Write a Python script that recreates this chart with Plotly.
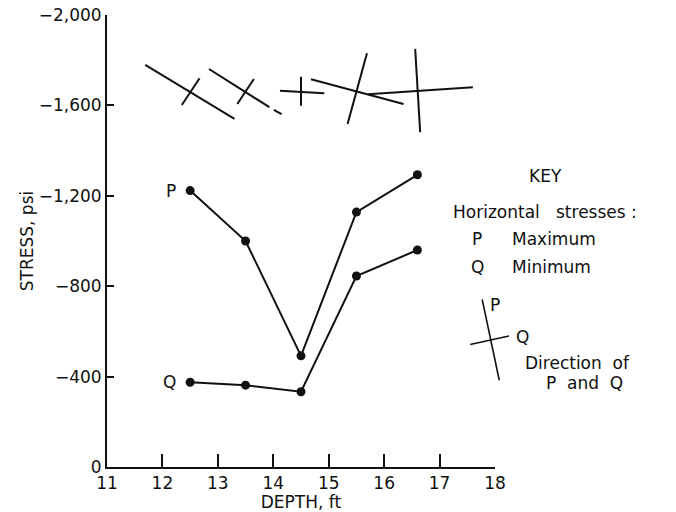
import plotly.graph_objects as go

# ---- data ----
depth = [12.5, 13.5, 14.5, 15.5, 16.6]
p_max = [-1223, -1000, -492, -1128, -1293]
q_min = [-375, -362, -333, -845, -960]

x_ticks = [11, 12, 13, 14, 15, 16, 17, 18]
y_ticks = [0, -400, -800, -1200, -1600, -2000]
y_tick_text = ["0", "\u2212400", "\u2212800", "\u22121,200", "\u22121,600", "\u22122,000"]

# direction symbols (segment end points, depth ft / stress psi)
seg_x0 = [11.69, 12.35, 12.84, 14.01, 13.35, 14.12, 14.50, 15.69, 14.68, 16.56, 15.71]
seg_y0 = [-1779, -1602, -1761, -1580, -1606, -1665, -1727, -1831, -1716, -1850, -1649]
seg_x1 = [13.30, 12.67, 13.93, 14.15, 13.65, 14.92, 14.50, 15.34, 16.35, 16.65, 17.60]
seg_y1 = [-1540, -1720, -1592, -1561, -1717, -1654, -1598, -1518, -1606, -1481, -1680]

INK = "#111111"
FONT = "DejaVu Sans"
FS = 17

fig = go.Figure()
for name, vals in (("P", p_max), ("Q", q_min)):
    fig.add_trace(go.Scatter(
        x=depth, y=vals, mode="lines+markers", name=name,
        line=dict(color=INK, width=2),
        marker=dict(color=INK, size=9),
        showlegend=False, hoverinfo="skip"))
    fig.add_annotation(x=depth[0], y=vals[0], text=name, showarrow=False,
                       xanchor="right", xshift=-12,
                       font=dict(family=FONT, size=FS, color=INK))

for a, b, c, d in zip(seg_x0, seg_y0, seg_x1, seg_y1):
    fig.add_shape(type="line", xref="x", yref="y", x0=a, y0=b, x1=c, y1=d,
                  line=dict(color=INK, width=2))

# key symbol
fig.add_shape(type="line", xref="paper", yref="paper", x0=0.967, y0=0.371,
              x1=1.011, y1=0.192, line=dict(color=INK, width=1.6))
fig.add_shape(type="line", xref="paper", yref="paper", x0=0.936, y0=0.271,
              x1=1.036, y1=0.290, line=dict(color=INK, width=1.6))

key_texts = [
    ("KEY", 1.129, 0.644, "center"),
    ("Horizontal   stresses :", 0.887, 0.564, "left"),
    ("P", 0.954, 0.504, "center"),
    ("Maximum", 1.039, 0.504, "left"),
    ("Q", 0.954, 0.442, "center"),
    ("Minimum", 1.039, 0.442, "left"),
    ("P", 1.000, 0.358, "center"),
    ("Q", 1.070, 0.288, "center"),
    ("Direction  of", 1.072, 0.230, "left"),
    ("P  and  Q", 1.127, 0.186, "left"),
]
for t, x, y, anc in key_texts:
    fig.add_annotation(xref="paper", yref="paper", x=x, y=y, text=t,
                       showarrow=False, xanchor=anc, yanchor="middle",
                       font=dict(family=FONT, size=FS, color=INK))

fig.update_layout(
    width=676, height=512,
    margin=dict(l=107, r=181, t=15, b=45),
    paper_bgcolor="white", plot_bgcolor="white",
    font=dict(family=FONT, size=FS, color=INK),
    xaxis=dict(range=[11, 18], tickvals=x_ticks, ticks="inside", ticklen=13,
               tickwidth=1.5, tickcolor=INK, showline=True, linecolor=INK,
               linewidth=2, showgrid=False, zeroline=False, automargin=False,
               ticklabelstandoff=0,
               title=dict(text="DEPTH, ft", standoff=0,
                          font=dict(family=FONT, size=FS, color=INK)),
               tickfont=dict(family=FONT, size=FS, color=INK)),
    yaxis=dict(range=[0, -2000], tickvals=y_ticks, ticktext=y_tick_text,
               ticks="inside", ticklen=7, tickwidth=1.5, tickcolor=INK,
               showline=True, linecolor=INK, linewidth=2, showgrid=False,
               zeroline=False, automargin=False,
               title=dict(text="STRESS, psi", standoff=1,
                          font=dict(family=FONT, size=FS, color=INK)),
               tickfont=dict(family=FONT, size=FS, color=INK)),
)

fig.write_html("out.html", config={"displayModeBar": False})

# remove the browser's default page margin so the figure sits at the corner
with open("out.html", encoding="utf-8") as fh:
    html = fh.read()
html = html.replace("<head>", "<head><style>html,body{margin:0;padding:0;overflow:hidden;}</style>", 1)
with open("out.html", "w", encoding="utf-8") as fh:
    fh.write(html)
